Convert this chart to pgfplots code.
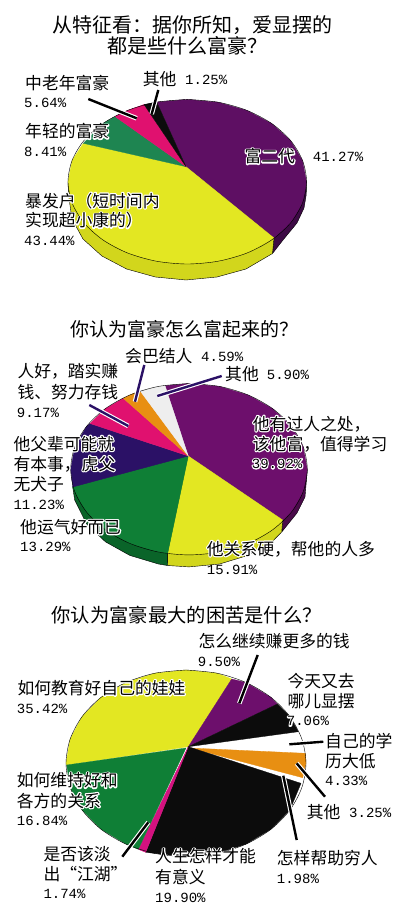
\documentclass[border=0pt]{standalone}
\usepackage{fontspec}
\usepackage{pgfplots}
\pgfplotsset{compat=1.18}
\setmainfont{Noto Sans CJK SC}
\newfontfamily\cn{Noto Sans CJK SC}
\newfontfamily\nm{Liberation Mono}
\definecolor{pa}{HTML}{5E0F63}\definecolor{pas}{HTML}{3D0A45}
\definecolor{ya}{HTML}{E3E722}\definecolor{yas}{HTML}{D2D61C}
\definecolor{ga}{HTML}{1E8551}\definecolor{ma}{HTML}{E0116F}
\definecolor{bk}{HTML}{0C0C0C}
\definecolor{pb}{HTML}{6D0F6C}\definecolor{pbs}{HTML}{4A0A4A}
\definecolor{nb}{HTML}{2B1166}\definecolor{gb}{HTML}{0F7F36}\definecolor{gbs}{HTML}{0A6429}
\definecolor{or}{HTML}{E88F12}\definecolor{wb}{HTML}{EEEEEE}
\definecolor{mc}{HTML}{D3127F}
\newcommand\ttl[4]{\node[anchor=base,inner sep=0pt,yshift=-7pt] at (axis cs:#1,#2) {\fontsize{#3}{#3}\selectfont\cn #4};}
\newcommand\lab[3]{\node[anchor=base west,inner sep=0pt,yshift=-6pt] at (axis cs:#1,#2) {\fontsize{16.8}{17}\selectfont\cn #3};}
\newcommand\num[3]{\node[anchor=base west,inner sep=0pt,yshift=-5pt] at (axis cs:#1,#2) {\fontsize{14}{14}\selectfont\nm #3};}
% white halo: the same text stroked in white (PDF text render mode 2), black text on top
\newcommand\halo[1]{\special{pdf:code q 1 1 1 RG 2.4 w 1 j 2 Tr}\textcolor{white}{#1}\special{pdf:code Q}}
\newcommand\hlab[3]{\node[anchor=base west,inner sep=0pt,yshift=-6pt] at (axis cs:#1,#2) {\fontsize{16.8}{17}\selectfont\cn\halo{#3}};\lab{#1}{#2}{#3}}
\newcommand\hnum[3]{\node[anchor=base west,inner sep=0pt,yshift=-5pt] at (axis cs:#1,#2) {\fontsize{14}{14}\selectfont\nm\halo{#3}};\num{#1}{#2}{#3}}
\newcommand\ldr[2]{\addplot[white,line width=4.6pt] coordinates {#2};\addplot[#1,line width=2.4pt] coordinates {#2};}
\begin{document}
\begin{tikzpicture}
\begin{axis}[hide axis,scale only axis,width=400pt,height=916pt,xmin=0,xmax=400,ymin=0,ymax=916,y dir=reverse,clip=false]
\path[fill=white] (axis cs:0,0) rectangle (axis cs:400,916);
%%%%% chart 1
\addplot[fill=pas,draw=black,line width=.4pt] coordinates {(186,167)(306.6,181.7)(306.2,195)(304,208)(297,223)(283,240)(272.5,253.5)(274,238)} --cycle;
\addplot[fill=yas,draw=black,line width=.4pt] coordinates {(186,167)(274,238)(272.5,253.5)(246,269)(217,277)(186,280)(155.4,277)(126.6,269)(101.9,256)(83,239)(72,219)(68.5,195)(68,181.7)} --cycle;
\addplot[fill=pa,draw=pa,line width=.3pt] coordinates {(186,166.7)(156.7,102)(187.3,99.4)(218.2,102.2)(247,110.4)(271.7,123.5)(290.6,140.5)(302.5,160.4)(306.6,181.7)(302.5,203)(290.6,222.9)(274,238)} --cycle;
\addplot[fill=ya,draw=ya,line width=.3pt] coordinates {(186,166.7)(274,238)(247,253)(218.2,261.2)(187.3,264)(156.4,261.2)(127.6,253)(102.9,239.9)(84,222.9)(72.1,203)(68,181.7)(72.1,160.4)(83.3,143.3)} --cycle;
\addplot[fill=ga,draw=ga,line width=.3pt] coordinates {(186,166.7)(83.3,143.3)(102.9,123.5)(115,116.5)} --cycle;
\addplot[fill=ma,draw=ma,line width=.3pt] coordinates {(186,166.7)(115,116.5)(127.6,110.4)(144,104.5)} --cycle;
\addplot[fill=bk,draw=bk,line width=.3pt] coordinates {(186,166.7)(144,104.5)(156.7,102)} --cycle;
\addplot[black,line width=.4pt,smooth] coordinates {(187.3,99.4)(218.2,102.2)(247,110.4)(271.7,123.5)(290.6,140.5)(302.5,160.4)(306.6,181.7)(302.5,203)(290.6,222.9)(271.7,239.9)(247,253)(218.2,261.2)(187.3,264)(156.4,261.2)(127.6,253)(102.9,239.9)(84,222.9)(72.1,203)(68,181.7)(72.1,160.4)(84,140.5)(102.9,123.5)(127.6,110.4)(156.4,102.2)(187.3,99.4)};
\ldr{black}{(88.3,99)(136.7,118.3)}
\ldr{black}{(158.3,90)(151.7,114)}
\ttl{192.5}{25}{20}{从特征看：据你所知，爱显摆的}
\ttl{187}{46.7}{20}{都是些什么富豪？}
\lab{25}{83.3}{中老年富豪}
\num{24}{102.7}{5.64\%}
\lab{142.7}{79.3}{其他}
\num{185}{79.3}{1.25\%}
\hlab{25}{131.7}{年轻的富豪}
\num{24}{151}{8.41\%}
\hlab{244.3}{156.7}{富二代}
\num{312.7}{156.7}{41.27\%}
\hlab{25}{201}{暴发户（短时间内}
\hlab{25}{220.7}{实现超小康的）}
\hnum{24}{240}{43.44\%}
%%%%% chart 2
\addplot[fill=pbs,draw=black,line width=.4pt] coordinates {(188.3,456)(307.3,470)(305,497)(297,513)(282,531.7)(282.7,520)} --cycle;
\addplot[fill=yas,draw=black,line width=.4pt] coordinates {(188.3,456)(282.7,520)(281.7,532)(272,541.8)(248,555.4)(219.6,564)(189,566.9)(167.5,565.5)(167.7,553.3)} --cycle;
\addplot[fill=gbs,draw=black,line width=.4pt] coordinates {(188.3,456)(167.7,553.3)(167.5,565.5)(158.4,564)(129.8,555.4)(105.4,541.8)(86.6,524)(74.7,500)(72.7,487)} --cycle;
\addplot[fill=pb,draw=pb,line width=.3pt] coordinates {(188.3,456)(165,385.7)(189,383.5)(219.6,386.4)(248.2,395)(272.6,408.6)(291.4,426.3)(303.3,447)(307.3,469.2)(303.3,491.4)(291.4,512.1)(282.7,520)} --cycle;
\addplot[fill=ya,draw=ya,line width=.3pt] coordinates {(188.3,456)(282.7,520)(272.6,529.8)(248.2,543.4)(219.6,552)(189,554.9)(167.7,553.3)} --cycle;
\addplot[fill=gb,draw=gb,line width=.3pt] coordinates {(188.3,456)(167.7,553.3)(158.4,552)(129.8,543.4)(105.4,529.8)(86.6,512.1)(74.7,491.4)(72.7,487)} --cycle;
\addplot[fill=nb,draw=nb,line width=.3pt] coordinates {(188.3,456)(72.7,487)(70.7,469.2)(74.7,447)(86.6,426.3)(90,423.5)} --cycle;
\addplot[fill=ma,draw=ma,line width=.3pt] coordinates {(188.3,456)(90,423.5)(105.4,408.6)(123.3,398.3)} --cycle;
\addplot[fill=or,draw=or,line width=.3pt] coordinates {(188.3,456)(123.3,398.3)(129.8,395)(140,390.7)} --cycle;
\addplot[fill=wb,draw=wb,line width=.3pt] coordinates {(188.3,456)(140,390.7)(158.4,386.4)(165,385.7)} --cycle;
\addplot[black,line width=.4pt,smooth] coordinates {(189,383.5)(219.6,386.4)(248.2,395)(272.6,408.6)(291.4,426.3)(303.3,447)(307.3,469.2)(303.3,491.4)(291.4,512.1)(272.6,529.8)(248.2,543.4)(219.6,552)(189,554.9)(158.4,552)(129.8,543.4)(105.4,529.8)(86.6,512.1)(74.7,491.4)(70.7,469.2)(74.7,447)(86.6,426.3)(105.4,408.6)(129.8,395)(158.4,386.4)(189,383.5)};
\ldr{nb}{(144.3,365)(135,401.7)}
\ldr{nb}{(221.7,376)(157.3,396)}
\ldr{nb}{(89.3,405)(128.3,426)}
\ttl{184.5}{329.3}{19}{你认为富豪怎么富起来的？}
\lab{125}{356}{会巴结人}
\num{201}{356}{4.59\%}
\lab{17.3}{371.7}{人好，踏实赚}
\lab{17.3}{392.3}{钱、努力存钱}
\num{16.7}{412.3}{9.17\%}
\lab{225}{374}{其他}
\num{266.7}{374}{5.90\%}
\hlab{252.7}{424}{他有过人之处，}
\hlab{252.7}{444}{该他富，值得学习}
\hnum{251.7}{463.3}{39.92\%}
\hlab{13.3}{444}{他父辈可能就}
\hlab{13.3}{464}{有本事，}
\hlab{81.5}{464}{虎父}
\lab{13.3}{484.3}{无犬子}
\num{13.3}{504}{11.23\%}
\hlab{20}{527.3}{他运气好而已}
\num{20}{546.7}{13.29\%}
\hlab{206.7}{549}{他关系硬，帮他的人多}
\num{206.7}{569.3}{15.91\%}
%%%%% chart 3
\addplot[fill=ya,draw=ya,line width=.3pt] coordinates {(188.3,746.7)(66.7,765)(66,763.3)(70.1,739.2)(82.1,716.6)(101.1,697.3)(126,682.5)(154.9,673.2)(186,670)(217.1,673.2)(231.7,679)} --cycle;
\addplot[fill=pb,draw=pb,line width=.3pt] coordinates {(188.3,746.7)(231.7,679)(246,682.5)(270.9,697.3)(277.3,704)} --cycle;
\addplot[fill=bk,draw=bk,line width=.3pt] coordinates {(188.3,746.7)(277.3,704)(289.9,716.6)(298.3,731.7)} --cycle;
\addplot[fill=or,draw=or,line width=.3pt] coordinates {(190,748)(305.5,753.3)(306,763.3)(302.7,777.7)} --cycle;
\addplot[fill=bk,draw=bk,line width=.3pt] coordinates {(188.3,746.7)(301,783.3)(289.9,810)(270.9,829.3)(246,844.1)(217.1,853.4)(186,856.6)(154.9,853.4)(145.7,852.3)} --cycle;
\addplot[fill=mc,draw=mc,line width=.3pt] coordinates {(188.3,746.7)(145.7,852.3)(138.3,849.3)} --cycle;
\addplot[fill=gb,draw=gb,line width=.3pt] coordinates {(186,748)(138.3,849.3)(126,844.1)(101.1,829.3)(82.1,810)(70.1,787.4)(66.7,765)} --cycle;
\addplot[black,line width=.4pt,smooth] coordinates {(186,670)(217.1,673.2)(246,682.5)(270.9,697.3)(289.9,716.6)(301.9,739.2)(306,763.3)(301.9,787.4)(289.9,810)(270.9,829.3)(246,844.1)(217.1,853.4)(186,856.6)(154.9,853.4)(126,844.1)(101.1,829.3)(82.1,810)(70.1,787.4)(66,763.3)(70.1,739.2)(82.1,716.6)(101.1,697.3)(126,682.5)(154.9,673.2)(186,670)};
\ldr{black}{(257.7,655)(239.3,703.3)}
\ldr{black}{(323.3,741.7)(289.3,744.3)}
\ldr{black}{(325,796.7)(296.7,763.3)}
\ldr{black}{(296.7,840)(283.3,775.7)}
\ldr{black}{(122.3,856.7)(148.3,822.3)}
\ttl{186.7}{615}{19.3}{你认为富豪最大的困苦是什么？}
\lab{198.3}{641.7}{怎么继续赚更多的钱}
\num{197.7}{661}{9.50\%}
\lab{287.3}{681}{今天又去}
\lab{287.3}{701}{哪儿显摆}
\hnum{286.7}{720.7}{7.06\%}
\hlab{17.3}{688.3}{如何教育好自己的娃娃}
\num{16.7}{708.3}{35.42\%}
\lab{325}{741}{自己的学}
\lab{325}{761}{历大低}
\num{325}{780.7}{4.33\%}
\lab{306.7}{812.7}{其他}
\num{349}{812.7}{3.25\%}
\hlab{16.7}{780.7}{如何维持好和}
\hlab{16.7}{801}{各方的关系}
\num{16.7}{820.7}{16.84\%}
\lab{276.7}{858.3}{怎样帮助穷人}
\num{276.7}{878.3}{1.98\%}
\lab{43.3}{854.3}{是否该淡}
\lab{43.3}{874.3}{出“江湖”}
\num{43.3}{893.3}{1.74\%}
\hlab{155}{856.7}{人生怎样才能}
\lab{155}{877.3}{有意义}
\num{155}{897.7}{19.90\%}
\end{axis}
\end{tikzpicture}
\end{document}
